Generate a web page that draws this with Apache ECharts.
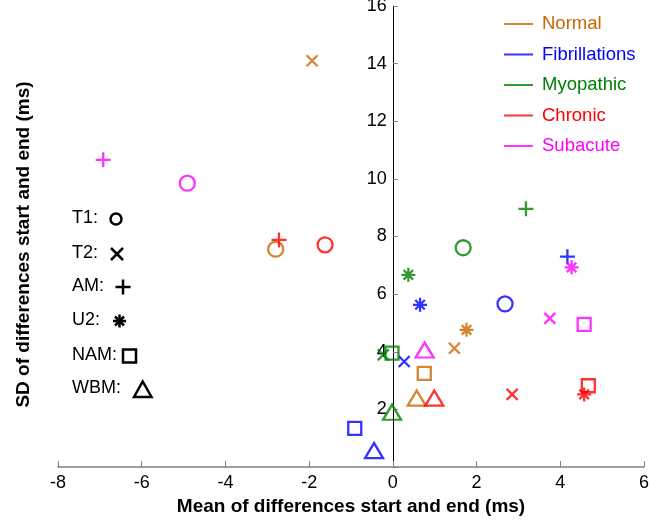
<!DOCTYPE html>
<html>
<head>
<meta charset="utf-8">
<script src="https://cdn.jsdelivr.net/npm/echarts@6/dist/echarts.min.js"></script>
<style>
  html, body { margin: 0; padding: 0; background: #fff; }
  #chart { width: 650px; height: 527px; }
</style>
</head>
<body>
<div id="chart"></div>
<script>
// groups and marker types
const groupNames = ['Normal', 'Fibrillations', 'Myopathic', 'Chronic', 'Subacute'];
const markerNames = ['T1', 'T2', 'AM', 'U2', 'NAM', 'WBM'];

// values (x = mean, y = SD), one entry per marker
const normalX = [-2.80, -1.93, 1.47, 1.76, 0.75, 0.57];
const normalY = [7.56, 14.10, 4.12, 4.76, 3.25, 2.39];
const normalM = ['T1', 'T2', 'T2', 'U2', 'NAM', 'WBM'];

const fibX = [2.68, 0.27, 4.17, 0.65, -0.91, -0.45];
const fibY = [5.66, 3.66, 7.30, 5.63, 1.34, 0.57];
const fibM = ['T1', 'T2', 'AM', 'U2', 'NAM', 'WBM'];

const myoX = [1.68, -0.23, 3.18, 0.37, -0.02, -0.02];
const myoY = [7.61, 3.89, 8.96, 6.67, 3.95, 1.90];
const myoM = ['T1', 'T2', 'AM', 'U2', 'NAM', 'WBM'];

const chrX = [-1.62, 2.85, -2.72, 4.57, 4.67, 0.99];
const chrY = [7.71, 2.52, 7.88, 2.52, 2.82, 2.39];
const chrM = ['T1', 'T2', 'AM', 'U2', 'NAM', 'WBM'];

const subX = [-4.91, 3.75, -6.92, 4.27, 4.57, 0.76];
const subY = [9.85, 5.16, 10.66, 6.93, 4.95, 4.06];
const subM = ['T1', 'T2', 'AM', 'U2', 'NAM', 'WBM'];

const xTicks = [-8, -6, -4, -2, 0, 2, 4, 6];
const yTicks = [0, 2, 4, 6, 8, 10, 12, 14, 16];

const COLORS = ['#cc6600', '#0000ff', '#008000', '#ff0000', '#ff00ff'];
const FONT = 'Liberation Sans, Arial, sans-serif';

const GRID_LEFT = 58, GRID_RIGHT = 6;
const PLOT_W = 650 - GRID_LEFT - GRID_RIGHT;

const SYM = {
    T1:  { symbol: 'circle', size: 15 },
    T2:  { symbol: 'path://M0,0L10,10M10,0L0,10', size: 11 },
    AM:  { symbol: 'path://M5,0L5,10M0,5L10,5', size: 15 },
    U2:  { symbol: 'path://M5,0L5,10M0,5L10,5M1.6,1.6L8.4,8.4M8.4,1.6L1.6,8.4', size: 14 },
    NAM: { symbol: 'rect', size: 13 },
    WBM: { symbol: 'triangle', size: [18, 15] }
};

const groupData = [
    [normalX, normalY, normalM],
    [fibX, fibY, fibM],
    [myoX, myoY, myoM],
    [chrX, chrY, chrM],
    [subX, subY, subM]
];

const seriesList = groupNames.map((name, g) => {
    const [xs, ys, ms] = groupData[g];
    const color = COLORS[g];
    return {
        name: name,
        type: 'scatter',
        itemStyle: { color: color },
        emphasis: { disabled: true },
        data: xs.map((x, i) => ({
            value: [x, ys[i]],
            symbol: SYM[ms[i]].symbol,
            symbolSize: SYM[ms[i]].size,
            itemStyle: { color: 'rgba(0,0,0,0)', borderColor: color, borderWidth: 2.3 }
        }))
    };
});

// marker key on the left (black glyphs)
const keyRows = [219, 254, 287, 321, 356, 389];
const keyStroke = { fill: 'none', stroke: '#000', lineWidth: 2.5 };
const keyGraphics = markerNames.map((m, i) => ({
    type: 'text', left: 72, top: keyRows[i] - 10,
    style: { text: m + ':', font: '18px ' + FONT, fill: '#000' }
})).concat([
    { type: 'circle', shape: { cx: 116, cy: 219, r: 5.5 }, style: keyStroke },
    { type: 'line', shape: { x1: 111, y1: 248, x2: 123, y2: 260 }, style: keyStroke },
    { type: 'line', shape: { x1: 123, y1: 248, x2: 111, y2: 260 }, style: keyStroke },
    { type: 'line', shape: { x1: 115.5, y1: 287, x2: 130.5, y2: 287 }, style: keyStroke },
    { type: 'line', shape: { x1: 123, y1: 279.5, x2: 123, y2: 294.5 }, style: keyStroke },
    { type: 'line', shape: { x1: 113, y1: 321, x2: 126, y2: 321 }, style: keyStroke },
    { type: 'line', shape: { x1: 119.5, y1: 314.5, x2: 119.5, y2: 327.5 }, style: keyStroke },
    { type: 'line', shape: { x1: 115, y1: 316.5, x2: 124, y2: 325.5 }, style: keyStroke },
    { type: 'line', shape: { x1: 124, y1: 316.5, x2: 115, y2: 325.5 }, style: keyStroke },
    { type: 'rect', shape: { x: 123, y: 349.5, width: 13, height: 13 }, style: keyStroke },
    { type: 'polygon', shape: { points: [[134, 397], [151.5, 397], [142.7, 381.5]] }, style: keyStroke }
]);

// y axis sits at x = 0: shift it inward from the grid's left edge
const xMin = xTicks[0], xMax = xTicks[xTicks.length - 1];
const yAxisOffset = -PLOT_W * (0 - xMin) / (xMax - xMin);

const myChart = echarts.init(document.getElementById('chart'));
myChart.setOption({
    backgroundColor: '#ffffff',
    animation: false,
    textStyle: { fontFamily: FONT },
    grid: { left: GRID_LEFT, right: GRID_RIGHT, top: 6, bottom: 60, containLabel: false, outerBoundsMode: 'none' },
    legend: {
        orient: 'vertical', left: 504, top: 14, padding: 0,
        icon: 'rect', itemWidth: 29, itemHeight: 2, itemGap: 10.5,
        selectedMode: false,
        textStyle: { fontSize: 18.5, lineHeight: 20, fontFamily: FONT, padding: [0, 0, 0, 4] },
        data: groupNames.map((n, g) => ({ name: n, textStyle: { color: COLORS[g] } }))
    },
    xAxis: {
        type: 'value', min: xMin, max: xMax, interval: 2,
        name: 'Mean of differences start and end (ms)',
        nameLocation: 'middle', nameGap: 30,
        nameTextStyle: { fontSize: 19, fontWeight: 'bold', color: '#000', fontFamily: FONT },
        axisLine: { lineStyle: { color: '#808080', width: 1.5 } },
        axisTick: { inside: true, length: 6, lineStyle: { color: '#808080' } },
        axisLabel: { fontSize: 18, color: '#000', margin: 7, fontFamily: FONT },
        splitLine: { show: false }
    },
    yAxis: {
        type: 'value', min: yTicks[0], max: yTicks[yTicks.length - 1], interval: 2,
        offset: yAxisOffset,
        name: 'SD of differences start and end (ms)',
        nameLocation: 'middle', nameGap: 360,
        nameTextStyle: { fontSize: 19, fontWeight: 'bold', color: '#000', fontFamily: FONT, padding: [0, 16, 0, 0] },
        axisLine: { onZero: false, lineStyle: { color: '#000', width: 1 } },
        axisTick: { inside: true, length: 5, lineStyle: { color: '#808080' } },
        axisLabel: { fontSize: 18, color: '#000', margin: 6, fontFamily: FONT,
            formatter: v => (v === 0 ? '' : String(v)) },
        splitLine: { show: false }
    },
    graphic: keyGraphics,
    series: seriesList
});
window.addEventListener('resize', () => myChart.resize());
</script>
</body>
</html>
